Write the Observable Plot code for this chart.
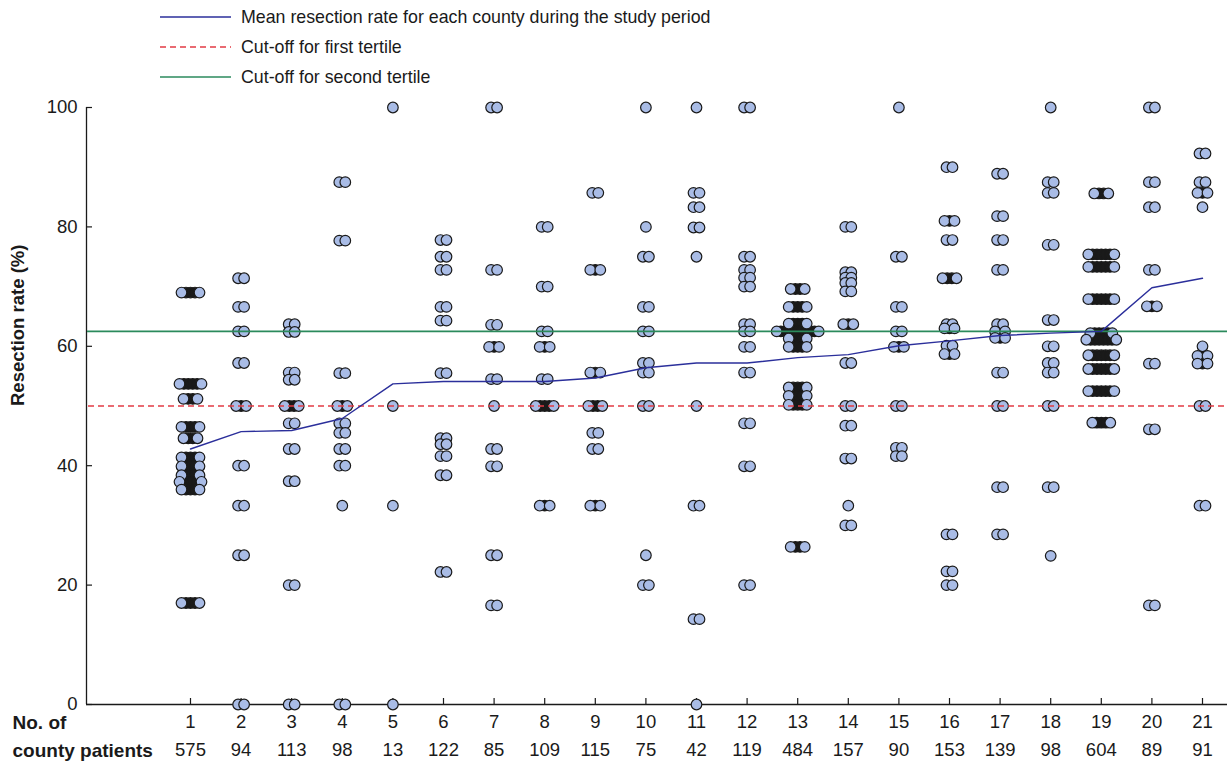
<!DOCTYPE html>
<html><head><meta charset="utf-8">
<script src="https://cdn.jsdelivr.net/npm/d3@7"></script>
<script src="https://cdn.jsdelivr.net/npm/@observablehq/plot@0.6"></script>
<style>
body{margin:0;background:#fff;font-family:"Liberation Sans",Arial,sans-serif;}
#wrap{position:relative;width:1227px;height:765px;overflow:hidden;}
#legend{position:relative;height:90px;}
.row{position:absolute;left:160px;display:flex;align-items:center;height:20px;font-size:17.8px;color:#1a1a1a;white-space:nowrap}
.row svg{margin-right:10px;display:block}
</style></head><body>
<div id="wrap"><div id="legend"></div><div id="chart"></div></div>
<script>
// ---- data ----
const counties = [1,2,3,4,5,6,7,8,9,10,11,12,13,14,15,16,17,18,19,20,21];
const patients = [575,94,113,98,13,122,85,109,115,75,42,119,484,157,90,153,139,98,604,89,91];
const meanRate = [42.8,45.7,45.9,47.9,53.7,54.1,54.1,54.1,54.7,56.4,57.2,57.2,58.1,58.6,60.1,60.9,61.8,62.2,62.5,69.8,71.4];
const cutFirst = 50;
const cutSecond = 62.5;
const yTicks = [0,20,40,60,80,100];
const legendLabels = ["Mean resection rate for each county during the study period","Cut-off for first tertile","Cut-off for second tertile"];

// [resection rate %, number of overlapping points]
const county1 = [[69.0,5],[53.7,6],[51.2,4],[46.5,5],[44.6,4],[41.4,5],[39.9,5],[38.4,5],[37.3,6],[36.0,5],[17.0,5]];
const county2 = [[71.4,2],[66.6,2],[62.5,2],[57.2,2],[50,3],[40,2],[33.3,2],[25,2],[0,2]];
const county3 = [[63.7,2],[62.4,2],[55.6,2],[54.4,2],[50,4],[47.1,2],[42.8,2],[37.4,2],[20,2],[0,2]];
const county4 = [[87.5,2],[77.7,2],[55.5,2],[50,3],[47.1,2],[45.5,2],[42.8,2],[40,2],[33.3,1],[0,2]];
const county5 = [[100,1],[50,1],[33.3,1],[0,1]];
const county6 = [[77.8,2],[75,2],[72.8,2],[66.6,2],[64.3,2],[55.5,2],[44.6,2],[43.6,2],[41.6,2],[38.4,2],[22.2,2]];
const county7 = [[100,2],[72.8,2],[63.6,2],[59.9,3],[54.5,2],[50,1],[42.8,2],[39.9,2],[25,2],[16.6,2]];
const county8 = [[80,2],[70,2],[62.5,2],[59.9,3],[54.5,2],[50,5],[33.3,3]];
const county9 = [[85.7,2],[72.8,3],[55.6,3],[50,4],[45.5,2],[42.8,2],[33.3,3]];
const county10 = [[100,1],[80,1],[75,2],[66.6,2],[62.5,2],[57.2,2],[55.6,2],[50,2],[25,1],[20,2]];
const county11 = [[100,1],[85.7,2],[83.3,2],[79.9,2],[75,1],[50,1],[33.3,2],[14.3,2],[0,1]];
const county12 = [[100,2],[75,2],[72.8,2],[71.5,2],[70,2],[63.7,2],[62.5,2],[59.9,2],[55.6,2],[47.1,2],[39.9,2],[20,2]];
const county13 = [[69.6,4],[66.6,5],[63.8,5],[62.5,11],[61.3,5],[59.9,5],[53.1,5],[51.7,5],[50.2,5],[26.4,4]];
const county14 = [[80,2],[72.4,2],[71.5,2],[70.6,2],[69.2,2],[63.7,3],[57.2,2],[50,2],[46.7,2],[41.2,2],[33.3,1],[30,2]];
const county15 = [[100,1],[75,2],[66.6,2],[62.5,2],[59.9,3],[50,2],[43,2],[41.6,2]];
const county16 = [[90,2],[81,3],[77.8,2],[71.4,4],[63.7,2],[63,3],[60.1,2],[58.7,3],[28.5,2],[22.3,2],[20,2]];
const county17 = [[88.9,2],[81.8,2],[77.8,2],[72.8,2],[63.7,2],[62.5,3],[61.4,3],[55.6,2],[50,2],[36.4,2],[28.5,2]];
const county18 = [[100,1],[87.5,2],[85.7,2],[77,2],[64.4,2],[60,2],[57.2,2],[55.6,2],[50,2],[36.4,2],[24.9,1]];
const county19 = [[85.6,4],[75.4,7],[73.3,7],[67.9,7],[62.2,6],[61.1,8],[58.5,7],[56.2,7],[52.5,7],[47.2,5]];
const county20 = [[100,2],[87.5,2],[83.3,2],[72.8,2],[66.7,3],[57.1,2],[46.1,2],[16.6,2]];
const county21 = [[92.3,2],[87.5,2],[85.7,3],[83.3,1],[60,1],[58.4,3],[57.1,3],[50,2],[33.3,2]];
const groups = [county1,county2,county3,county4,county5,county6,county7,county8,county9,county10,county11,county12,county13,county14,county15,county16,county17,county18,county19,county20,county21];

// ---- colours ----
const cMean = "#2b2f9b", cFirst = "#e23b44", cSecond = "#2b8a5c", cDot = "#a9bce6", cInk = "#1a1a1a";

// ---- legend ----
const legend = document.getElementById("legend");
const swatches = [
  `<line x1="0" x2="71" y1="10" y2="10" stroke="${cMean}" stroke-width="1.4"/>`,
  `<line x1="0" x2="71" y1="10" y2="10" stroke="${cFirst}" stroke-width="1.3" stroke-dasharray="6,4"/>`,
  `<line x1="0" x2="71" y1="10" y2="10" stroke="${cSecond}" stroke-width="1.6"/>`
];
legendLabels.forEach((lab, i) => {
  const r = document.createElement("div");
  r.className = "row";
  r.style.top = (7 + 30*i) + "px";
  r.innerHTML = `<svg width="71" height="20">${swatches[i]}</svg><span>${lab}</span>`;
  legend.appendChild(r);
});

// ---- points (jittered horizontally around each county) ----
const PX = 50.6; // pixels per county step
const xDomain = [1 - 104/PX, 21 + 25/PX];
const xMin = xDomain[0];
const pts = [];
groups.forEach((g, ci) => {
  const c = counties[ci];
  g.forEach(([v, n]) => {
    const w = n === 2 ? 3 : n > 2 ? 2*(n-1) + 1 : 0;
    for (let i = 0; i < n; i++) {
      const off = n > 1 ? -w + 2*w*i/(n-1) : 0;
      pts.push({x: c + off/PX, y: v, inner: n >= 3 && i > 0 && i < n-1});
    }
  });
});
const table = counties.map((c, i) => ({c, p: patients[i], m: meanRate[i]}));

const chart = Plot.plot({
  width: 1227, height: 675,
  marginTop: 17, marginBottom: 61, marginLeft: 86, marginRight: 0,
  x: {domain: xDomain, axis: null},
  y: {domain: [0, 100], axis: null},
  style: {fontFamily: "'Liberation Sans', Arial, sans-serif", fontSize: "18.5px", color: cInk, background: "white", overflow: "visible"},
  marks: [
    // axes lines and inward ticks
    Plot.ruleX([xMin], {y1: 0, y2: 100, stroke: cInk, strokeWidth: 1.3}),
    Plot.ruleY([0], {x1: xMin, x2: xDomain[1], stroke: cInk, strokeWidth: 1.3}),
    Plot.ruleX(counties, {x: d => d, y1: 0, y2: 6/5.97, stroke: cInk, strokeWidth: 1.2}),
    Plot.ruleY(yTicks, {y: d => d, x1: xMin, x2: xMin + 6/PX, stroke: cInk, strokeWidth: 1.2}),
    Plot.text(yTicks, {x: xMin, y: d => d, dx: -9, textAnchor: "end", text: d => String(d), fill: cInk}),
    Plot.text(table, {x: "c", y: 0, dy: 18, text: d => String(d.c), fill: cInk, lineAnchor: "middle"}),
    Plot.text(table, {x: "c", y: 0, dy: 46, text: d => String(d.p), fill: cInk, lineAnchor: "middle"}),
    Plot.text(["No. of"], {frameAnchor: "bottom-left", dx: -74, dy: 18, textAnchor: "start", lineAnchor: "middle", fontWeight: "bold", fontSize: 19, fill: cInk}),
    Plot.text(["county patients"], {frameAnchor: "bottom-left", dx: -74, dy: 46, textAnchor: "start", lineAnchor: "middle", fontWeight: "bold", fontSize: 19, fill: cInk}),
    Plot.text(["Resection rate (%)"], {frameAnchor: "left", dx: -68, rotate: -90, fontWeight: "bold", fontSize: 18.5, fill: cInk}),
    // dots: interior (dense) points first, drawn black, then the outer points
    Plot.dot(pts.filter(d => d.inner), {x: "x", y: "y", r: 5.3, fill: cInk, stroke: cInk, strokeWidth: 1.2}),
    Plot.dot(pts.filter(d => !d.inner), {x: "x", y: "y", r: 5.3, fill: cDot, stroke: cInk, strokeWidth: 1.2}),
    // reference lines
    Plot.ruleY([cutFirst], {x1: xMin + 2/PX, x2: xDomain[1], stroke: cFirst, strokeWidth: 1.3, strokeDasharray: "6,4"}),
    Plot.ruleY([cutSecond], {x1: xMin + 1/PX, x2: xDomain[1], stroke: cSecond, strokeWidth: 1.6}),
    Plot.line(table, {x: "c", y: "m", stroke: cMean, strokeWidth: 1.4})
  ]
});
document.getElementById("chart").appendChild(chart);
</script>
</body></html>
